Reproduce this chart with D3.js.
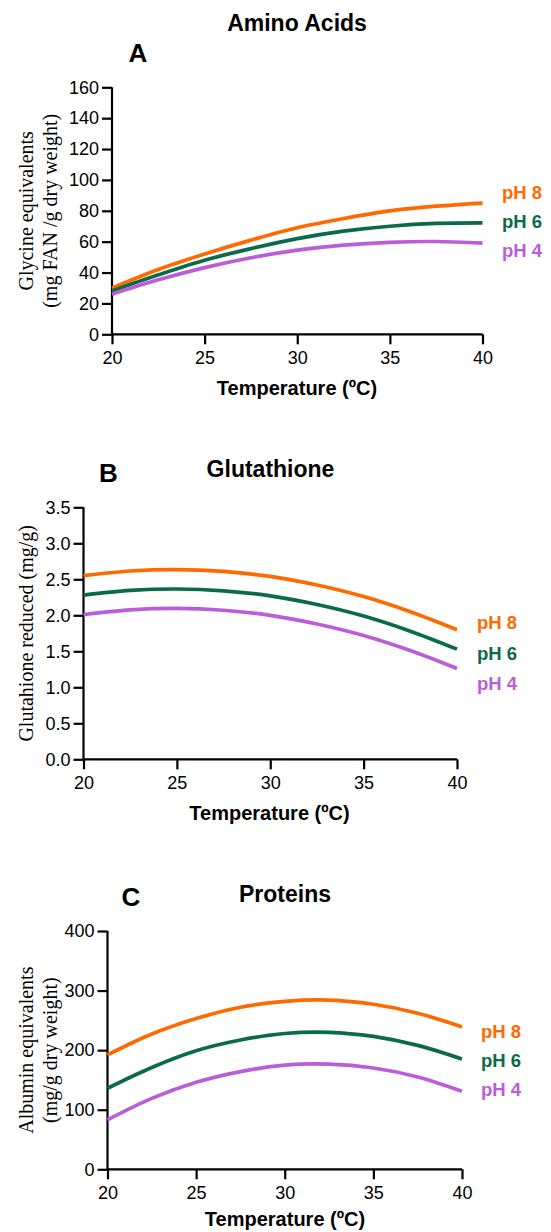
<!DOCTYPE html>
<html>
<head>
<meta charset="utf-8">
<script src="https://cdn.jsdelivr.net/npm/d3@7"></script>
<style>
  body { margin: 0; background: #fff; }
  svg { display: block; }
</style>
</head>
<body>
<div id="app"></div>
<script>
const WIDTH = 551;
const HEIGHT = 1232;

// temperatures (ºC) at which the fitted curves are read
const temps = [20, 22.5, 25, 27.5, 30, 32.5, 35, 37.5, 40];
const seriesNames = ['pH 8', 'pH 6', 'pH 4'];
const seriesColors = ['#ff6a00', '#0a6a49', '#bb5dd8'];
const xTicks = [20, 25, 30, 35, 40];

// A - amino acids (mg FAN / g dry weight)
const aminoPH8 = [30, 42, 52, 61, 69, 75, 80, 83, 85];
const aminoPH6 = [28, 38.5, 48, 55.5, 62, 66.8, 70, 71.8, 72.2];
const aminoPH4 = [26, 35.3, 43.2, 49.6, 54.5, 57.8, 59.6, 60.1, 59];
const aminoTicks = [0, 20, 40, 60, 80, 100, 120, 140, 160];

// B - glutathione (mg/g)
const glutPH8 = [2.55, 2.615, 2.635, 2.61, 2.54, 2.42, 2.26, 2.05, 1.80];
const glutPH6 = [2.28, 2.345, 2.365, 2.34, 2.27, 2.15, 1.99, 1.78, 1.53];
const glutPH4 = [2.01, 2.075, 2.095, 2.07, 2.00, 1.88, 1.72, 1.51, 1.26];
const glutTicks = [0, 0.5, 1.0, 1.5, 2.0, 2.5, 3.0, 3.5];

// C - proteins (mg/g dry weight)
const protPH8 = [192, 227, 253, 272, 282, 284, 277, 262, 239];
const protPH6 = [136, 171, 199, 217, 228, 230, 223, 208, 185];
const protPH4 = [83, 119, 146, 164, 175, 176.5, 170, 155, 131];
const protTicks = [0, 100, 200, 300, 400];

const svg = d3.select('#app')
  .append('svg')
  .attr('width', WIDTH)
  .attr('height', HEIGHT);

const sans = 'Arial, "Liberation Sans", Helvetica, sans-serif';
const serif = '"Times New Roman", "Liberation Serif", serif';

function drawPanel(p) {
  const x = d3.scaleLinear().domain([20, 40]).range([p.left, p.right]);
  const y = d3.scaleLinear().domain([0, p.yMax]).range([p.bottom, p.top]);

  const g = svg.append('g');

  // panel title and letter
  g.append('text')
    .attr('x', p.titleX).attr('y', p.titleY)
    .attr('text-anchor', 'middle')
    .attr('font-family', sans).attr('font-weight', 'bold').attr('font-size', 23)
    .text(p.title);
  g.append('text')
    .attr('x', p.letterX).attr('y', p.letterY)
    .attr('text-anchor', 'middle')
    .attr('font-family', sans).attr('font-weight', 'bold').attr('font-size', 26)
    .text(p.letter);

  // axes
  const xAxis = g.append('g')
    .attr('transform', `translate(0,${p.bottom})`)
    .call(d3.axisBottom(x).tickValues(xTicks).tickSize(10).tickPadding(7));
  const yAxis = g.append('g')
    .attr('transform', `translate(${p.left},0)`)
    .call(d3.axisLeft(y).tickValues(p.yTicks).tickSize(10).tickPadding(3).tickFormat(p.fmt));

  [xAxis, yAxis].forEach(a => {
    a.attr('font-family', sans).attr('font-size', 18);
    a.select('.domain').attr('stroke', '#000').attr('stroke-width', 2.2);
    a.selectAll('.tick line').attr('stroke', '#000').attr('stroke-width', 2.2);
    a.selectAll('.tick text').attr('fill', '#000');
  });
  xAxis.select('.domain').attr('d', `M${p.left},0H${p.right}`);
  yAxis.select('.domain').attr('d', `M0,${p.top}V${p.bottom}`);

  // x axis title
  g.append('text')
    .attr('x', p.xTitleX).attr('y', p.bottom + p.xTitleDy)
    .attr('text-anchor', 'middle')
    .attr('font-family', sans).attr('font-weight', 'bold').attr('font-size', 20)
    .text('Temperature (ºC)');

  // y axis title (serif, one or two lines)
  const cy = (p.top + p.bottom) / 2;
  p.yTitle.forEach((t, i) => {
    g.append('text')
      .attr('transform', `translate(${33 + i * 24},${cy}) rotate(-90)`)
      .attr('text-anchor', 'middle')
      .attr('font-family', serif).attr('font-size', 20)
      .text(t);
  });

  // curves
  const line = d3.line()
    .x((d, i) => x(temps[i]))
    .y(d => y(d))
    .curve(d3.curveCatmullRom);

  g.selectAll('path.curve')
    .data(p.series)
    .enter()
    .append('path')
    .attr('class', 'curve')
    .attr('d', line)
    .attr('fill', 'none')
    .attr('stroke', (d, i) => seriesColors[i])
    .attr('stroke-width', 3.7);

  // series labels
  g.selectAll('text.lab')
    .data(seriesNames)
    .enter()
    .append('text')
    .attr('class', 'lab')
    .attr('x', p.labelX)
    .attr('y', (d, i) => p.labelY + i * p.labelGap)
    .attr('dy', '0.35em')
    .attr('fill', (d, i) => seriesColors[i])
    .attr('font-family', sans).attr('font-weight', 'bold').attr('font-size', 18.5)
    .text(d => d);
}

drawPanel({
  title: 'Amino Acids', titleX: 297, titleY: 31,
  letter: 'A', letterX: 138, letterY: 62,
  left: 112, right: 482.5, top: 87.3, bottom: 334.3,
  yMax: 160, yTicks: aminoTicks, fmt: d3.format('d'),
  xTitleX: 297, xTitleDy: 61,
  yTitle: ['Glycine equivalents', '(mg FAN /g dry weight)'],
  series: [aminoPH8, aminoPH6, aminoPH4],
  labelX: 502, labelY: 193, labelGap: 29
});

drawPanel({
  title: 'Glutathione', titleX: 270.5, titleY: 477,
  letter: 'B', letterX: 108.5, letterY: 482,
  left: 83.5, right: 457, top: 507.3, bottom: 759.3,
  yMax: 3.5, yTicks: glutTicks, fmt: d3.format('.1f'),
  xTitleX: 269.5, xTitleDy: 61,
  yTitle: ['Glutahione reduced (mg/g)'],
  series: [glutPH8, glutPH6, glutPH4],
  labelX: 477, labelY: 623, labelGap: 30.5
});

drawPanel({
  title: 'Proteins', titleX: 285, titleY: 901.5,
  letter: 'C', letterX: 131, letterY: 906,
  left: 107.5, right: 462, top: 931, bottom: 1169.3,
  yMax: 400, yTicks: protTicks, fmt: d3.format('d'),
  xTitleX: 285, xTitleDy: 57,
  yTitle: ['Albumin equivalents', '(mg/g dry weight)'],
  series: [protPH8, protPH6, protPH4],
  labelX: 481, labelY: 1032, labelGap: 29
});
</script>
</body>
</html>
